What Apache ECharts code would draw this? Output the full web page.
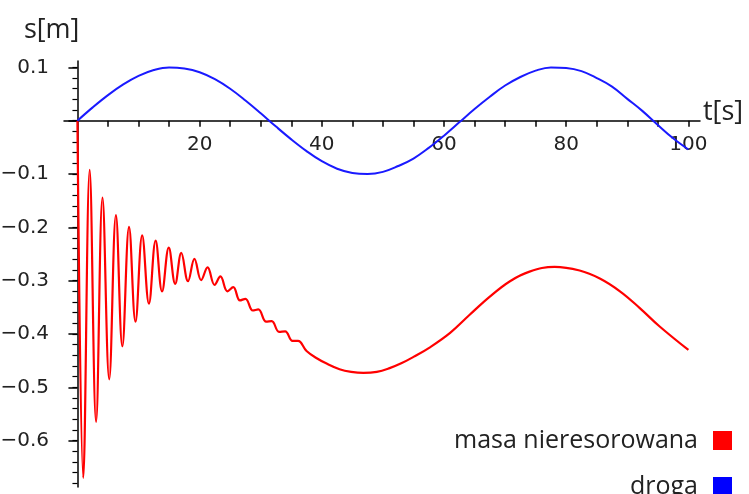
<!DOCTYPE html>
<html>
<head>
<meta charset="utf-8">
<script src="https://cdn.jsdelivr.net/npm/echarts@6/dist/echarts.min.js"></script>
<style>
  html, body { margin: 0; padding: 0; background: #fff; }
  #chart { width: 749px; height: 494px; }
</style>
</head>
<body>
<div id="chart"></div>
<script>
// droga (blue)
const blueT = [0, 2.5, 5, 7.5, 10, 12.5, 15, 17.5, 20, 22.5, 25, 27.5, 30, 32.5, 35, 37.5, 40, 42.5, 45, 47.5,
  50, 52.5, 55, 57.5, 60, 62.5, 65, 67.5, 70, 72.5, 75, 77.5, 80, 82.5, 85, 87.5, 90, 92.5, 95, 97.5, 100]
const blueS = [0, 0.025, 0.048, 0.068, 0.084, 0.095, 0.1, 0.098, 0.091, 0.078, 0.06, 0.038, 0.014, -0.011, -0.035, -0.057, -0.076, -0.09, -0.098, -0.1,
  -0.096, -0.085, -0.071, -0.051, -0.028, -0.003, 0.022, 0.045, 0.066, 0.082, 0.094, 0.1, 0.099, 0.093, 0.08, 0.064, 0.041, 0.018, -0.008, -0.033, -0.054]

// masa nieresorowana (red) - peaks / troughs then the slow wave
const redT = [0, 0.95, 2.0, 3.05, 4.1, 5.2, 6.3, 7.35, 8.45, 9.5, 10.6, 11.7, 12.8, 13.85, 14.95, 16.0, 17.0, 18.1, 19.15, 20.25,
  21.3, 22.45, 23.4, 24.55, 25.5, 26.6, 27.5, 28.7, 29.6, 30.9, 31.8, 33.0, 34.0, 35.2, 36.1, 37.5, 39.1, 40.7, 42.9, 44.8,
  46.8, 49.0, 51.1, 53.0, 55.0, 57.7, 61.0, 64.2, 67.5, 70.8, 74.0, 78.1, 82.2, 85.5, 88.8, 92.0, 95.3, 100]
const redS = [0, -0.670, -0.092, -0.565, -0.144, -0.485, -0.177, -0.423, -0.199, -0.377, -0.215, -0.343, -0.225, -0.320, -0.238, -0.306, -0.248, -0.301, -0.259, -0.299,
  -0.275, -0.308, -0.292, -0.320, -0.312, -0.337, -0.334, -0.356, -0.354, -0.377, -0.376, -0.396, -0.395, -0.413, -0.413, -0.432, -0.445, -0.455, -0.466, -0.471,
  -0.473, -0.471, -0.464, -0.455, -0.443, -0.425, -0.398, -0.364, -0.330, -0.301, -0.283, -0.274, -0.281, -0.296, -0.320, -0.351, -0.386, -0.430]

const xTicks = [5, 10, 15, 20, 25, 30, 35, 40, 45, 50, 55, 60, 65, 70, 75, 80, 85, 90, 95, 100]
const xLabels = [20, 40, 60, 80, 100]
const yLabels = [0.1, -0.1, -0.2, -0.3, -0.4, -0.5, -0.6]
const yMajorTicks = [0.1, 0, -0.1, -0.2, -0.3, -0.4, -0.5, -0.6]
const yMinorTicks = [0.1, 0.08, 0.06, 0.04, 0.02, 0, -0.02, -0.04, -0.06, -0.08, -0.1, -0.12, -0.14, -0.16, -0.18, -0.2,
  -0.22, -0.24, -0.26, -0.28, -0.3, -0.32, -0.34, -0.36, -0.38, -0.4, -0.42, -0.44, -0.46, -0.48, -0.5,
  -0.52, -0.54, -0.56, -0.58, -0.6, -0.62, -0.64, -0.66, -0.68]

const names = ['masa nieresorowana', 'droga']

const zip = (a, b) => a.map((t, i) => [t, b[i]])

const W = 749, H = 494
const gridL = 64, gridR = 49, gridT = 61, gridB = 7
const xMin = -2.2, xMax = 101.9
const yMin = -0.687, yMax = 0.112
// where the other axis crosses zero, in pixels from the grid edges
const zeroX = (0 - xMin) / (xMax - xMin) * (W - gridL - gridR)
const zeroY = (yMax - 0) / (yMax - yMin) * (H - gridT - gridB)
const gridW = W - gridL - gridR
const gridH = H - gridT - gridB

const chart = echarts.init(document.getElementById('chart'))

const tickFont = { fontSize: 20, color: '#222', fontFamily: 'DejaVu Sans' }
const axisCol = { color: '#000', width: 1.5 }

chart.setOption({
  animation: false,
  grid: { left: gridL, right: gridR, top: gridT, bottom: gridB, outerBoundsMode: 'none' },
  legend: {
    data: names,
    orient: 'vertical',
    right: 17,
    top: 428,
    height: 90,
    padding: 0,
    align: 'right',
    icon: 'rect',
    itemWidth: 19,
    itemHeight: 19,
    itemGap: 21,
    formatter: '{n|{name}}',
    textStyle: {
      fontSize: 25, fontFamily: 'Open Sans', color: '#222',
      rich: { n: { fontSize: 25, lineHeight: 28, fontFamily: 'Open Sans', color: '#222', padding: [0, 10, 0, 0] } }
    }
  },
  xAxis: [{
    // line + ticks, sitting on y = 0
    type: 'value',
    min: xMin,
    max: xMax,
    position: 'top',
    name: 't[s]',
    nameLocation: 'end',
    nameGap: 3,
    nameTextStyle: { fontSize: 27, fontFamily: 'Open Sans', color: '#222', verticalAlign: 'bottom', padding: [0, 0, -5, 0] },
    axisLine: { onZero: true, lineStyle: axisCol },
    axisTick: { inside: true, customValues: xTicks, length: 6, lineStyle: axisCol },
    axisLabel: { show: false },
    splitLine: { show: false }
  }, {
    // labels under the zero line
    type: 'value',
    min: xMin,
    max: xMax,
    position: 'bottom',
    offset: -(gridH - zeroY),
    axisLine: { show: false, onZero: false },
    axisTick: { show: false },
    axisLabel: Object.assign({ customValues: xLabels, margin: 14 }, tickFont),
    splitLine: { show: false }
  }],
  yAxis: [{
    type: 'value',
    min: yMin,
    max: yMax,
    name: 's[m]',
    nameLocation: 'end',
    nameGap: 17,
    nameTextStyle: { fontSize: 27, fontFamily: 'Open Sans', color: '#222', align: 'right', padding: [0, -2, 0, 0] },
    axisLine: { onZero: true, lineStyle: axisCol },
    axisTick: { customValues: yMajorTicks, length: 9, lineStyle: axisCol },
    axisLabel: Object.assign({
      customValues: yLabels,
      margin: 15,
      formatter: v => v.toFixed(1).replace('-', '\u2212')
    }, tickFont),
    splitLine: { show: false }
  }, {
    // short ticks every 0.02 on the same line
    type: 'value',
    min: yMin,
    max: yMax,
    position: 'right',
    offset: -(gridW - zeroX),
    axisLine: { show: false, onZero: false },
    axisTick: { show: true, inside: true, customValues: yMinorTicks, length: 5, lineStyle: { color: '#000', width: 1.2 } },
    axisLabel: { show: false },
    splitLine: { show: false }
  }],
  series: [{
    name: names[0],
    type: 'line',
    data: zip(redT, redS),
    showSymbol: false,
    smooth: 0.4,
    color: '#ff0000',
    lineStyle: { color: '#ff0000', width: 2.2 }
  }, {
    name: names[1],
    type: 'line',
    data: zip(blueT, blueS),
    showSymbol: false,
    smooth: 0.4,
    color: '#0000ff',
    lineStyle: { color: '#1a1aff', width: 2 }
  }]
})
</script>
</body>
</html>
